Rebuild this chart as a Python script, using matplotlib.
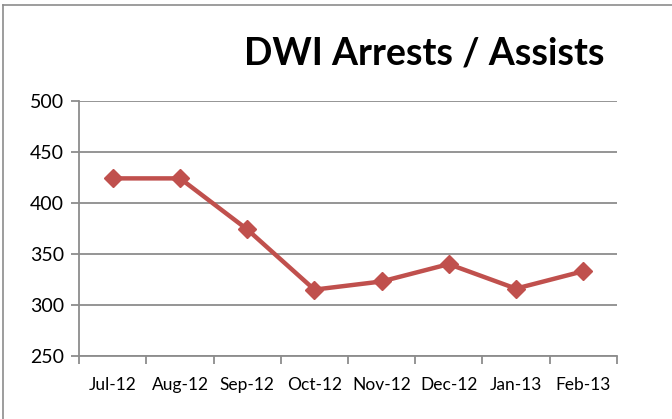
import matplotlib
matplotlib.use('Agg')
from matplotlib import pyplot as plt
from matplotlib.lines import Line2D
import numpy as np

months = ["Jul-12", "Aug-12", "Sep-12", "Oct-12", "Nov-12", "Dec-12", "Jan-13", "Feb-13"]
arrests = [424, 424, 374, 315, 323, 340, 316, 333]
y_ticks = [250, 300, 350, 400, 450, 500]

plt.rcParams['font.family'] = ['Lato', 'DejaVu Sans']

fig = plt.figure(figsize=(6.72, 4.19), dpi=100)
ax = fig.add_axes([0.118, 0.1504, 0.7997, 0.609])

grid_col = "#8c8c8c"
x = np.arange(len(months))
ax.plot(x, arrests, color="#C0504D", lw=3.2, marker="D", markersize=9, zorder=3)

ax.set_xlim(-0.5, len(months) - 0.5)
ax.set_ylim(250, 500)
ax.set_yticks(y_ticks)
ax.set_yticklabels([str(v) for v in y_ticks], fontsize=14)
ax.yaxis.grid(True, color=grid_col, lw=1.3)
ax.set_axisbelow(True)

# category labels centred, tick marks on the boundaries
ax.set_xticks(x)
ax.set_xticklabels(months, fontsize=12.5)
ax.tick_params(axis='x', length=0, pad=15)
ax.set_xticks(np.arange(-0.5, len(months)), minor=True)
ax.tick_params(axis='x', which='minor', length=6, color=grid_col, width=1.3, direction='out')
ax.tick_params(axis='y', length=6, color=grid_col, width=1.3, pad=5)

for side in ['top', 'right']:
    ax.spines[side].set_visible(False)
for side in ['left', 'bottom']:
    ax.spines[side].set_color(grid_col)
    ax.spines[side].set_linewidth(1.3)

fig.text(0.631, 0.845, "DWI Arrests / Assists", fontsize=27, fontweight='bold',
         ha='center', va='baseline')

# chart area border (top and left only visible in the crop)
fig.add_artist(Line2D([0.0045, 1.0], [0.988, 0.988], color="#8c8c8c", lw=1.2, transform=fig.transFigure))
fig.add_artist(Line2D([0.0045, 0.0045], [0.0, 0.988], color="#8c8c8c", lw=1.2, transform=fig.transFigure))

fig.savefig("out.png", dpi=100)
